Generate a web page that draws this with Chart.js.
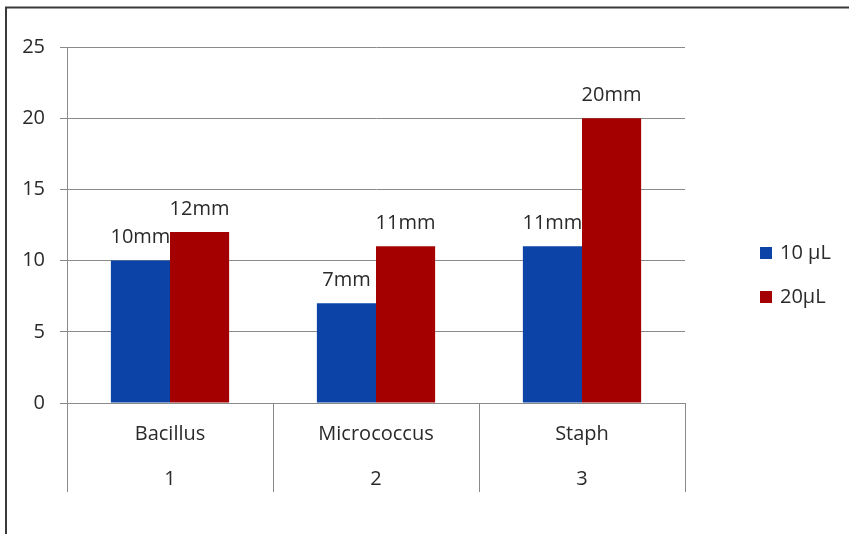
<!DOCTYPE html>
<html>
<head>
<meta charset="utf-8">
<script src="https://cdn.jsdelivr.net/npm/chart.js@4.4.1/dist/chart.umd.min.js"></script>
<style>
  html, body { margin: 0; padding: 0; background: #fff; }
  canvas { display: block; }
</style>
</head>
<body>
<canvas id="myChart" width="849" height="534"></canvas>
<script>
// chart data
const organisms = ['Bacillus', 'Micrococcus', 'Staph'];
const groupNumbers = ['1', '2', '3'];
const seriesNames = ['10 µL', '20µL'];
const values10uL = [10, 7, 11];
const values20uL = [12, 11, 20];
const barLabels10uL = ['10mm', '7mm', '11mm'];
const barLabels20uL = ['12mm', '11mm', '20mm'];
const yTicks = [0, 5, 10, 15, 20, 25];

const FONT = '"Open Sans", sans-serif';
const gridGray = '#8a8a8a';
const textColor = '#2a2a2a';

// frame around the picture + bar value labels + legend
const extras = {
    id: 'extras',
    beforeDraw(chart) {
        const c = chart.ctx;
        c.save();
        c.fillStyle = '#fff';
        c.fillRect(0, 0, chart.width, chart.height);
        c.restore();
    },
    afterDatasetsDraw(chart) {
        const c = chart.ctx;
        const labels = [barLabels10uL, barLabels20uL];
        c.save();
        c.font = '20px ' + FONT;
        c.fillStyle = textColor;
        c.textAlign = 'center';
        c.textBaseline = 'middle';
        chart.data.datasets.forEach((ds, i) => {
            chart.getDatasetMeta(i).data.forEach((bar, j) => {
                c.fillText(labels[i][j], bar.x, bar.y - 23);
            });
        });
        c.restore();
    },
    afterDraw(chart) {
        const c = chart.ctx;
        c.save();
        // outer frame (left and top only)
        c.strokeStyle = '#3a3a3a';
        c.lineWidth = 2;
        c.beginPath();
        c.moveTo(6, chart.height);
        c.lineTo(6, 7.5);
        c.lineTo(chart.width, 7.5);
        c.stroke();

        // legend
        const area = chart.chartArea;
        c.font = '20px ' + FONT;
        c.textBaseline = 'middle';
        c.textAlign = 'left';
        chart.data.datasets.forEach((ds, i) => {
            const y = 253 + i * 44;
            const x = area.right + 75;
            c.fillStyle = ds.backgroundColor;
            c.fillRect(x, y - 6, 12, 12);
            c.fillStyle = textColor;
            c.fillText(ds.label, x + 20, y);
        });
        c.restore();
    }
};

const ctx = document.getElementById('myChart').getContext('2d');
const chart = new Chart(ctx, {
    type: 'bar',
    data: {
        labels: organisms.map((o, i) => [o, '', groupNumbers[i]]),
        datasets: [
            { label: seriesNames[0], data: values10uL, backgroundColor: '#0b43a7' },
            { label: seriesNames[1], data: values20uL, backgroundColor: '#a50000' }
        ]
    },
    options: {
        responsive: false,
        animation: false,
        layout: { padding: { top: 47, right: 164, left: 0, bottom: 0 } },
        datasets: { bar: { categoryPercentage: 0.574, barPercentage: 1 } },
        plugins: {
            legend: { display: false },
            tooltip: { enabled: false }
        },
        scales: {
            x: {
                grid: { offset: true, drawOnChartArea: false, tickLength: 89, color: gridGray },
                border: { color: gridGray },
                ticks: {
                    padding: -69,
                    color: textColor,
                    font: { family: FONT, size: 20, lineHeight: 1.125 },
                    maxRotation: 0
                },
                afterFit(scale) { scale.height = 131; }
            },
            y: {
                min: yTicks[0],
                max: yTicks[yTicks.length - 1],
                grid: { color: gridGray, tickLength: 7 },
                border: { color: gridGray },
                ticks: {
                    stepSize: 5,
                    padding: 15,
                    color: textColor,
                    font: { family: FONT, size: 20 }
                },
                afterFit(scale) { scale.width = 67; }
            }
        }
    },
    plugins: [extras]
});
</script>
</body>
</html>
